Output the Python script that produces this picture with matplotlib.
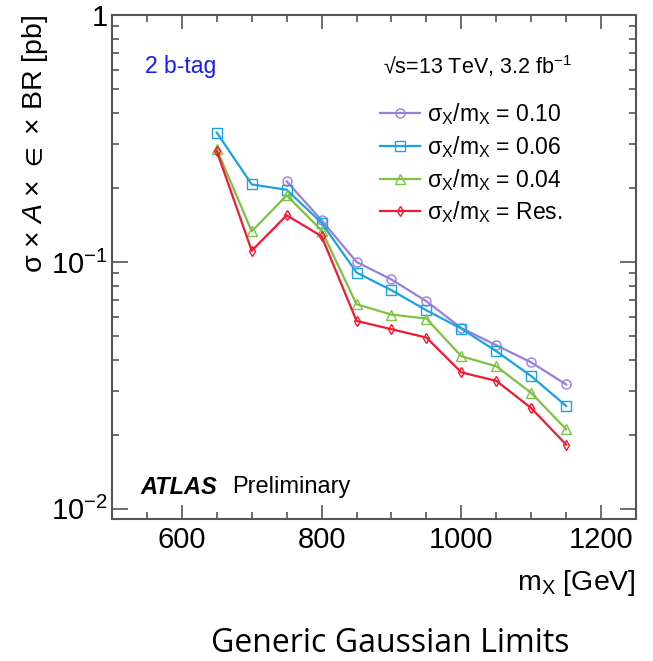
import matplotlib
matplotlib.use("Agg")
import matplotlib.pyplot as plt
from matplotlib.ticker import FixedLocator, LogLocator, NullFormatter

plt.rcParams['font.family'] = ['Liberation Sans', 'DejaVu Sans']
plt.rcParams['mathtext.fontset'] = 'custom'
plt.rcParams['mathtext.rm'] = 'Liberation Sans'
plt.rcParams['mathtext.it'] = 'Liberation Sans:italic'
plt.rcParams['mathtext.bf'] = 'Liberation Sans:bold'
plt.rcParams['mathtext.fallback'] = 'stixsans'

mass = [650, 700, 750, 800, 850, 900, 950, 1000, 1050, 1100, 1150]
mass_w10 = [750, 800, 850, 900, 950, 1000, 1050, 1100, 1150]
lim_w10 = [0.212, 0.1475, 0.100, 0.0849, 0.0693, 0.054, 0.046, 0.0392, 0.0319]
lim_w06 = [0.334, 0.206, 0.196, 0.144, 0.0906, 0.0768, 0.0637, 0.0537, 0.0435, 0.0345, 0.0261]
lim_w04 = [0.286, 0.133, 0.186, 0.134, 0.0674, 0.0612, 0.059, 0.0415, 0.0378, 0.0295, 0.0210]
lim_res = [0.281, 0.111, 0.1545, 0.127, 0.0577, 0.0534, 0.0494, 0.0357, 0.033, 0.0256, 0.0182]

series_labels = [r'σ$_{\mathrm{X}}$/m$_{\mathrm{X}}$ = 0.10',
                 r'σ$_{\mathrm{X}}$/m$_{\mathrm{X}}$ = 0.06',
                 r'σ$_{\mathrm{X}}$/m$_{\mathrm{X}}$ = 0.04',
                 r'σ$_{\mathrm{X}}$/m$_{\mathrm{X}}$ = Res.']
x_ticks = [600, 800, 1000, 1200]
x_ticklabels = ['600', '800', '1000', '1200']
y_ticks = [0.01, 0.1, 1.0]
y_ticklabels = [r'$10^{-2}$', r'$10^{-1}$', '1']

fig = plt.figure(figsize=(6.53, 6.61), dpi=100)
ax = fig.add_axes([112/653, 1-519/661, (636-112)/653, (519-15)/661])

c_pur = '#9b7fdc'
c_blu = '#1aa3e0'
c_grn = '#7dc241'
c_red = '#f01a32'

ax.plot(mass_w10, lim_w10, color=c_pur, lw=1.6, marker='o', ms=6.5, mfc='none', mew=1.0, label=series_labels[0])
ax.plot(mass, lim_w06, color=c_blu, lw=1.6, marker='s', ms=6.5, mfc='none', mew=1.0, label=series_labels[1])
ax.plot(mass, lim_w04, color=c_grn, lw=1.6, marker='^', ms=6.5, mfc='none', mew=1.0, label=series_labels[2])
ax.plot(mass, lim_res, color=c_red, lw=1.6, marker='d', ms=5.5, mfc='none', mew=1.0, label=series_labels[3])

ax.set_yscale('log')
ax.set_xlim(500, 1250)
ax.set_ylim(0.0091, 1.0)

ax.xaxis.set_major_locator(FixedLocator(x_ticks))
ax.xaxis.set_minor_locator(FixedLocator(list(range(500, 1251, 50))))
ax.yaxis.set_major_locator(FixedLocator(y_ticks))
ax.yaxis.set_minor_locator(LogLocator(base=10, subs=[2, 3, 4, 5, 6, 7, 8, 9]))
ax.yaxis.set_minor_formatter(NullFormatter())
ax.set_xticklabels(x_ticklabels)
ax.set_yticklabels(y_ticklabels)

ax.tick_params(axis='both', which='both', direction='in', top=True, right=True,
               color='#555555', width=1.2, labelsize=21)
ax.tick_params(axis='x', which='major', length=10, pad=5)
ax.tick_params(axis='x', which='minor', length=5)
ax.tick_params(axis='y', which='major', length=11.5, pad=3)
ax.tick_params(axis='y', which='minor', length=5)
for s in ax.spines.values():
    s.set_color('#555555')
    s.set_linewidth(1.5)

ax.set_ylabel(r'σ × $\mathit{A}$ × $\in$ × BR [pb]', fontsize=20.5, loc='top', labelpad=1)
ax.set_xlabel(r'm$_{\mathrm{X}}$ [GeV]', fontsize=20.5, loc='right', labelpad=10)

ax.text((145-112)/524, (519-67)/504, '2 b-tag', transform=ax.transAxes,
        color='#1a1aff', fontsize=16.5, va='center', ha='left')
ax.text((383-112)/524, (519-66)/504, r'√s=13 TeV, 3.2 fb$^{-1}$', transform=ax.transAxes,
        fontsize=15.5, va='center', ha='left')
ax.text((140-112)/524, (519-487)/504, 'ATLAS', transform=ax.transAxes, fontsize=17,
        fontweight='bold', fontstyle='italic', va='center', ha='left')
ax.text((232-112)/524, (519-487)/504, 'Preliminary', transform=ax.transAxes, fontsize=17,
        va='center', ha='left')

leg = ax.legend(loc='upper left', bbox_to_anchor=((371-112)/524, (519-92)/504),
                frameon=False, fontsize=16.5, handlelength=1.75, handletextpad=0.3,
                labelspacing=0.3, borderaxespad=0)

fig.text(390/653, 1-644/661, 'Generic Gaussian Limits', fontsize=23,
         family=['Open Sans', 'DejaVu Sans'], ha='center', va='center')

fig.savefig('out.png', dpi=100)
